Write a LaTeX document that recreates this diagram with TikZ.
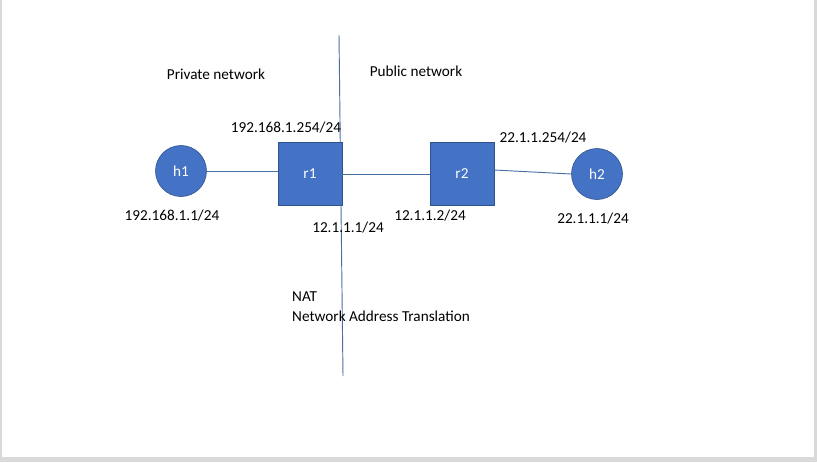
\documentclass[tikz,border=0pt]{standalone}
\usepackage{fontspec}
\setmainfont{Carlito}
\definecolor{officeblue}{HTML}{4472C4}
\definecolor{officeedge}{HTML}{2F528F}
\definecolor{linkblue}{HTML}{4A6FA5}
\definecolor{framegray}{HTML}{D9D9D9}
\tikzset{
    host/.style={circle, fill=officeblue, draw=officeedge, line width=0.5pt,
        minimum size=51\pxu, inner sep=0pt, text=white, font=\fontsize{13}{15}\selectfont},
    router/.style={rectangle, fill=officeblue, draw=officeedge, line width=0.5pt,
        minimum width=64\pxu, minimum height=63\pxu, inner sep=0pt, text=white,
        font=\fontsize{13}{15}\selectfont},
    link/.style={draw=linkblue, line width=0.8pt},
    lbl/.style={inner sep=0pt, font=\fontsize{13}{15}\selectfont}
}
\newcommand{\pxu}{*0.03cm}
\begin{document}
\begin{tikzpicture}[x=0.03cm, y=-0.03cm]
        \useasboundingbox (0,0) rectangle (817,462);
        \fill[white] (0,0) rectangle (817,462);
        % window frame
        \fill[framegray] (0,0) rectangle (2,462);
        \fill[framegray] (814,0) rectangle (817,462);
        \fill[framegray] (0,457) rectangle (817,462);

        \coordinate (natTop) at (339,35);
        \coordinate (natBot) at (343,376);
        \draw[link] (natTop) -- (natBot);

        \node[host] (h1) at (181,171) {h1};
        \node[router] (r1) at (310,174) {r1};
        \node[router] (r2) at (462,174) {r2};
        \node[host] (h2) at (597,174) {h2};

        \draw[link] (h1.east) -- (h1.east -| r1.west);
        \draw[link] (r1.east) -- (r2.west);
        \draw[link] ([yshift=4\pxu]r2.east) -- (h2.west);

        \node[lbl] (priv) at (216,74) {Private network};
        \node[lbl] (pub) at (416,71) {Public network};
        \node[lbl] (r1in) at (286,128) {192.168.1.254/24};
        \node[lbl] (h1ip) at (172,216) {192.168.1.1/24};
        \node[lbl] (r1out) at (348,228) {12.1.1.1/24};
        \node[lbl] (r2in) at (430,216) {12.1.1.2/24};
        \node[lbl] (r2out) at (543,138) {22.1.1.254/24};
        \node[lbl] (h2ip) at (593,219) {22.1.1.1/24};
        \node[lbl, anchor=west] (nat) at (292,297) {NAT};
        \node[lbl, anchor=west] (natlong) at (292,316) {Network Address Translation};
    \end{tikzpicture}
\end{document}
